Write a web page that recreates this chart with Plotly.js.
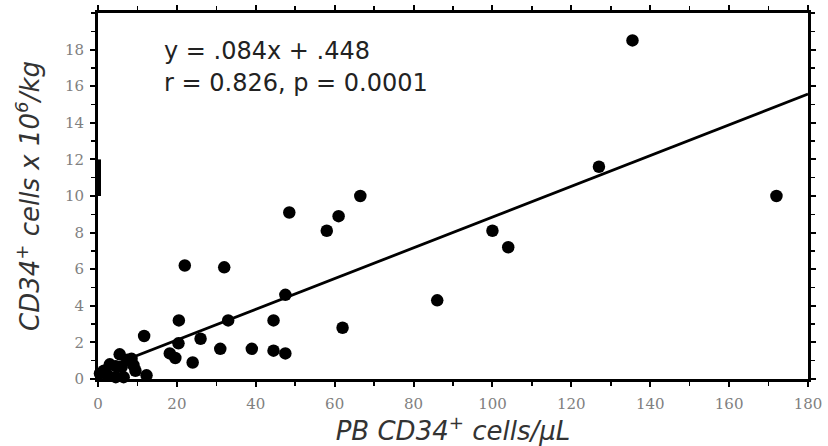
<!DOCTYPE html>
<html>
<head>
<meta charset="utf-8">
<script src="https://cdn.plot.ly/plotly-3.0.1.min.js"></script>
<style>html,body{margin:0;padding:0;background:#fff;}#chart{width:828px;height:446px;}</style>
</head>
<body>
<div id="chart"></div>
<script>
// PB CD34+ cells/µL (x) vs CD34+ cells x 10^6/kg (y)
const pbCD34 = [0.5, 1.5, 2.5, 3, 4.5, 4.5, 5.5, 6.5, 6, 7.5, 9, 9.5, 8.5, 12.3, 11.7, 18.2, 19.6, 20.4, 20.5, 22, 24, 26, 31, 32, 33, 39, 44.5, 44.5, 47.5, 47.5, 48.5, 58, 61, 62, 66.5, 86, 100, 104, 127, 135.5, 172];
const harvestCD34 = [0.3, 0.45, 0.2, 0.8, 0.1, 0.7, 1.35, 0.1, 0.65, 1.05, 0.75, 0.45, 1.1, 0.2, 2.35, 1.4, 1.15, 1.95, 3.2, 6.2, 0.9, 2.2, 1.65, 6.1, 3.2, 1.65, 3.2, 1.55, 1.4, 4.6, 9.1, 8.1, 8.9, 2.8, 10.0, 4.3, 8.1, 7.2, 11.6, 18.5, 10.0];
const slope = 0.084, intercept = 0.448;
const fitX = [0, 180];
const fitY = fitX.map(v => slope * v + intercept);
const yTickVals = [0, 2, 4, 6, 8, 10, 12, 14, 16, 18];
const xTickVals = [0, 20, 40, 60, 80, 100, 120, 140, 160, 180];
const annLines = ['y = .084x + .448', 'r = 0.826, p = 0.0001'];

const traces = [
  {x: pbCD34, y: harvestCD34, type: 'scatter', mode: 'markers',
   marker: {color: '#000', size: 12.5, line: {width: 0}}, showlegend: false, cliponaxis: false},
  {x: fitX, y: fitY, type: 'scatter', mode: 'lines',
   line: {color: '#000', width: 2.8}, showlegend: false}
];

const axisCommon = {
  showgrid: false, zeroline: false, showline: true, linecolor: '#000', linewidth: 3,
  mirror: 'ticks', ticks: 'outside', ticklen: 5, tickwidth: 2, tickcolor: '#000',
  tickfont: {family: 'DejaVu Serif', size: 15, color: '#808080'}
};

const layout = {
  width: 828, height: 446,
  margin: {l: 98, r: 20, t: 13, b: 67},
  paper_bgcolor: '#fff', plot_bgcolor: '#fff',
  xaxis: Object.assign({}, axisCommon, {
    range: [0, 180], tickmode: 'array', tickvals: xTickVals, ticklabelstandoff: 4,
    minor: {dtick: 10, ticklen: 4, tickwidth: 1.5, tickcolor: '#000', ticks: 'outside'},
    title: {text: 'PB CD34<sup>+</sup> cells/µL', standoff: 8,
            font: {family: 'DejaVu Sans', size: 26, color: '#333', style: 'italic'}}
  }),
  yaxis: Object.assign({}, axisCommon, {
    range: [0, 20], tickmode: 'array', tickvals: yTickVals, ticklabelstandoff: 3,
    minor: {dtick: 1, ticklen: 4, tickwidth: 1.5, tickcolor: '#000', ticks: 'outside'},
    title: {text: 'CD34<sup>+</sup> cells x 10<sup>6</sup>/kg', standoff: 18,
            font: {family: 'DejaVu Sans', size: 26, color: '#333', style: 'italic'}}
  }),
  shapes: [
    {type: 'line', xref: 'x', yref: 'y', x0: 0, x1: 0, y0: 10, y1: 12, line: {color: '#000', width: 6}}
  ],
  annotations: [
    {text: annLines[0], xref: 'paper', yref: 'paper', x: 0.09, y: 0.895, xanchor: 'left', yanchor: 'middle',
     showarrow: false, font: {family: 'DejaVu Sans', size: 24, color: '#222'}},
    {text: annLines[1], xref: 'paper', yref: 'paper', x: 0.09, y: 0.81, xanchor: 'left', yanchor: 'middle',
     showarrow: false, font: {family: 'DejaVu Sans', size: 24, color: '#222'}}
  ]
};

Plotly.newPlot('chart', traces, layout, {staticPlot: true, displayModeBar: false});
</script>
</body>
</html>
